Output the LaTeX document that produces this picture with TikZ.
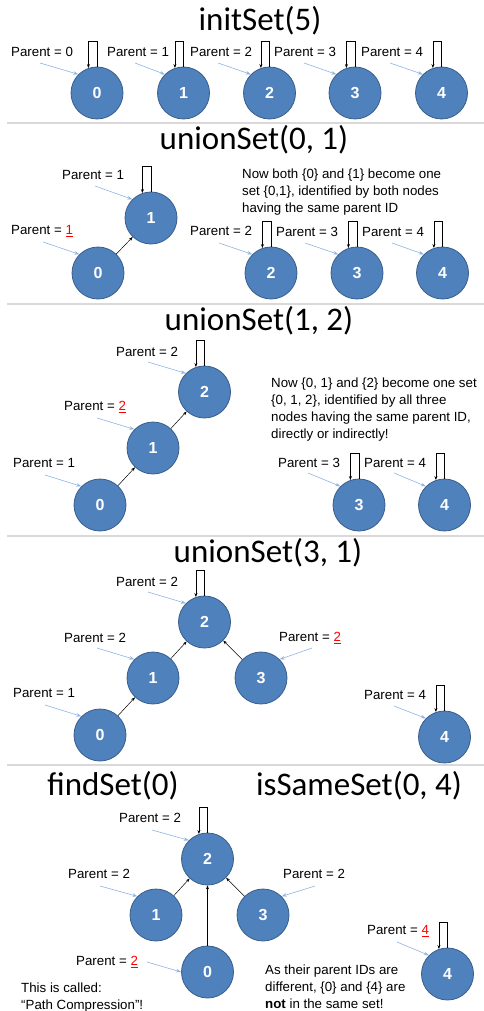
\documentclass[tikz,border=0pt]{standalone}
\usepackage{fontspec}
\setmainfont{Liberation Sans}
\newfontfamily\titlefont{Carlito}
\usetikzlibrary{arrows.meta,calc}
\definecolor{nodefill}{HTML}{4F81BD}
\definecolor{nodeline}{HTML}{385D8A}
\definecolor{annblue}{HTML}{8DB3E2}
\definecolor{sepgray}{HTML}{D9D9D9}
\definecolor{redtxt}{HTML}{FF0000}
\tikzset{
  circ/.style={circle, minimum size=52pt, inner sep=0pt, fill=nodefill, draw=nodeline, line width=0.8pt, text=white, font=\fontsize{16}{18}\selectfont\bfseries},
  lbl/.style={anchor=west, inner sep=0pt, font=\fontsize{13.3}{16}\selectfont},
  ttl/.style={anchor=base, inner sep=0pt, font=\titlefont\fontsize{33}{38}\selectfont},
  desc/.style={anchor=north west, inner sep=0pt, align=left, font=\fontsize{13.3}{17}\selectfont},
  ann/.style={draw=annblue, line width=0.6pt, -{Stealth[length=5pt,width=3.5pt]}},
  edgeline/.style={draw=black, line width=0.5pt, -{Stealth[length=4pt,width=3pt]}},
  loopline/.style={draw=black, line width=0.6pt, -{Stealth[length=4pt,width=3pt]}},
  sepline/.style={draw=sepgray, line width=2pt},
}
\newcommand{\redul}[1]{\textcolor{redtxt}{\underline{#1}}}
\newcommand{\selfloop}[1]{\draw[loopline] (#1.north) -- ++(0,-25) -| (#1.109);}
\begin{document}
\begin{tikzpicture}[x=1pt,y=-1pt]
\useasboundingbox (0,0) rectangle (484,1011);

% separators
\draw[sepline] (7,123) -- (484,123);
\draw[sepline] (7,304) -- (484,304);
\draw[sepline] (7,536) -- (484,536);
\draw[sepline] (7,765) -- (484,765);

% ===== Section 1: initSet(5)
\node[ttl] (t1) at (260,31) {initSet(5)};
\node[circ] (a0) at (97,93) {0};
\node[circ] (a1) at (183.5,93) {1};
\node[circ] (a2) at (269.5,93) {2};
\node[circ] (a3) at (355,93) {3};
\node[circ] (a4) at (441.5,93) {4};
\node[lbl] (la0) at (11,52) {Parent = 0};
\node[lbl] (la1) at (107,52) {Parent = 1};
\node[lbl] (la2) at (190,52) {Parent = 2};
\node[lbl] (la3) at (274,52) {Parent = 3};
\node[lbl] (la4) at (361,52) {Parent = 4};
\coordinate (pa0) at (40,63);
\coordinate (pa1) at (135,63);
\coordinate (pa2) at (218,63);
\coordinate (pa3) at (304,63);
\coordinate (pa4) at (390,63);
\foreach \i in {0,...,4}{
  \draw[ann] (pa\i) -- (a\i.135);
  \selfloop{a\i}
}

% ===== Section 2: unionSet(0, 1)
\node[ttl] (t2) at (254,150) {unionSet(0, 1)};
\node[circ] (b1) at (151,218) {1};
\node[circ] (b0) at (98,273) {0};
\node[circ] (b2) at (271,273) {2};
\node[circ] (b3) at (357,273) {3};
\node[circ] (b4) at (442.5,273) {4};
\draw[edgeline] (b0) -- (b1);
\node[lbl] (lb1) at (62,175) {Parent = 1};
\node[lbl] (lb0) at (11,231) {Parent = \redul{1}};
\node[lbl] (lb2) at (190,231) {Parent = 2};
\node[lbl] (lb3) at (276,232) {Parent = 3};
\node[lbl] (lb4) at (362,232) {Parent = 4};
\coordinate (pb1) at (95,186);
\coordinate (pb0) at (43,242);
\coordinate (pb2) at (219,243);
\coordinate (pb3) at (305,243);
\coordinate (pb4) at (392,243);
\foreach \i in {0,...,4}{\draw[ann] (pb\i) -- (b\i.135);}
\foreach \i in {1,2,3,4}{\selfloop{b\i}}
\node[desc] (db) at (242,169) {Now both \{0\} and \{1\} become one\\set \{0,1\}, identified by both nodes\\having the same parent ID};

% ===== Section 3: unionSet(1, 2)
\node[ttl] (t3) at (259,330) {unionSet(1, 2)};
\node[circ] (c2) at (204.5,392) {2};
\node[circ] (c1) at (153,448) {1};
\node[circ] (c0) at (100,505) {0};
\node[circ] (c3) at (359,505) {3};
\node[circ] (c4) at (444.5,505) {4};
\draw[edgeline] (c0) -- (c1);
\draw[edgeline] (c1) -- (c2);
\node[lbl] (lc2) at (116,352) {Parent = 2};
\node[lbl] (lc1) at (64,407) {Parent = \redul{2}};
\node[lbl] (lc0) at (13,463) {Parent = 1};
\node[lbl] (lc3) at (278,463) {Parent = 3};
\node[lbl] (lc4) at (364,463) {Parent = 4};
\coordinate (pc2) at (148,362);
\coordinate (pc1) at (97,418);
\coordinate (pc0) at (45,475);
\coordinate (pc3) at (308,473);
\coordinate (pc4) at (394,473);
\foreach \i in {0,...,4}{\draw[ann] (pc\i) -- (c\i.135);}
\foreach \i in {2,3,4}{\selfloop{c\i}}
\node[desc] (dc) at (271,378) {Now \{0, 1\} and \{2\} become one set\\\{0, 1, 2\}, identified by all three\\nodes having the same parent ID,\\directly or indirectly!};

% ===== Section 4: unionSet(3, 1)
\node[ttl] (t4) at (268,562) {unionSet(3, 1)};
\node[circ] (d2) at (204.5,622) {2};
\node[circ] (d1) at (153,678) {1};
\node[circ] (d0) at (100,735) {0};
\node[circ] (d3) at (261,678) {3};
\node[circ] (d4) at (444.5,737) {4};
\draw[edgeline] (d0) -- (d1);
\draw[edgeline] (d1) -- (d2);
\draw[edgeline] (d3) -- (d2);
\node[lbl] (ld2) at (116,582) {Parent = 2};
\node[lbl] (ld1) at (64,638) {Parent = 2};
\node[lbl] (ld0) at (13,693) {Parent = 1};
\node[lbl] (ld3) at (279,638) {Parent = \redul{2}};
\node[lbl] (ld4) at (364,695) {Parent = 4};
\coordinate (pd2) at (148,592);
\coordinate (pd1) at (97,648);
\coordinate (pd0) at (45,705);
\coordinate (pd3) at (312,648);
\coordinate (pd4) at (394,706);
\foreach \i in {0,1,2,4}{\draw[ann] (pd\i) -- (d\i.135);}
\draw[ann] (pd3) -- (d3.45);
\foreach \i in {2,4}{\selfloop{d\i}}

% ===== Section 5: findSet(0) / isSameSet(0, 4)
\node[ttl] (t5) at (113,795) {findSet(0)};
\node[ttl] (t6) at (359,795) {isSameSet(0, 4)};
\node[circ] (e2) at (207.5,859) {2};
\node[circ] (e1) at (156,915) {1};
\node[circ] (e3) at (263,915) {3};
\node[circ] (e0) at (207.5,972) {0};
\node[circ] (e4) at (447.5,974) {4};
\draw[edgeline] (e1) -- (e2);
\draw[edgeline] (e3) -- (e2);
\draw[edgeline] (e0) -- (e2);
\node[lbl] (le2) at (119,818) {Parent = 2};
\node[lbl] (le1) at (68,874) {Parent = 2};
\node[lbl] (le3) at (283,874) {Parent = 2};
\node[lbl] (le0) at (76,962) {Parent = \redul{2}};
\node[lbl] (le4) at (367,931) {Parent = \redul{4}};
\coordinate (pe2) at (152,830);
\coordinate (pe1) at (100,886);
\coordinate (pe3) at (315,886);
\coordinate (pe0) at (147,962);
\coordinate (pe4) at (397,942);
\draw[ann] (pe2) -- (e2.135);
\draw[ann] (pe1) -- (e1.135);
\draw[ann] (pe3) -- (e3.45);
\draw[ann] (pe0) -- (e0.180);
\draw[ann] (pe4) -- (e4.135);
\foreach \i in {2,4}{\selfloop{e\i}}
\node[desc] (de1) at (21,983) {This is called:\\“Path Compression”!};
\node[desc] (de2) at (265,965) {As their parent IDs are\\different, \{0\} and \{4\} are\\\textbf{not} in the same set!};
\end{tikzpicture}
\end{document}
